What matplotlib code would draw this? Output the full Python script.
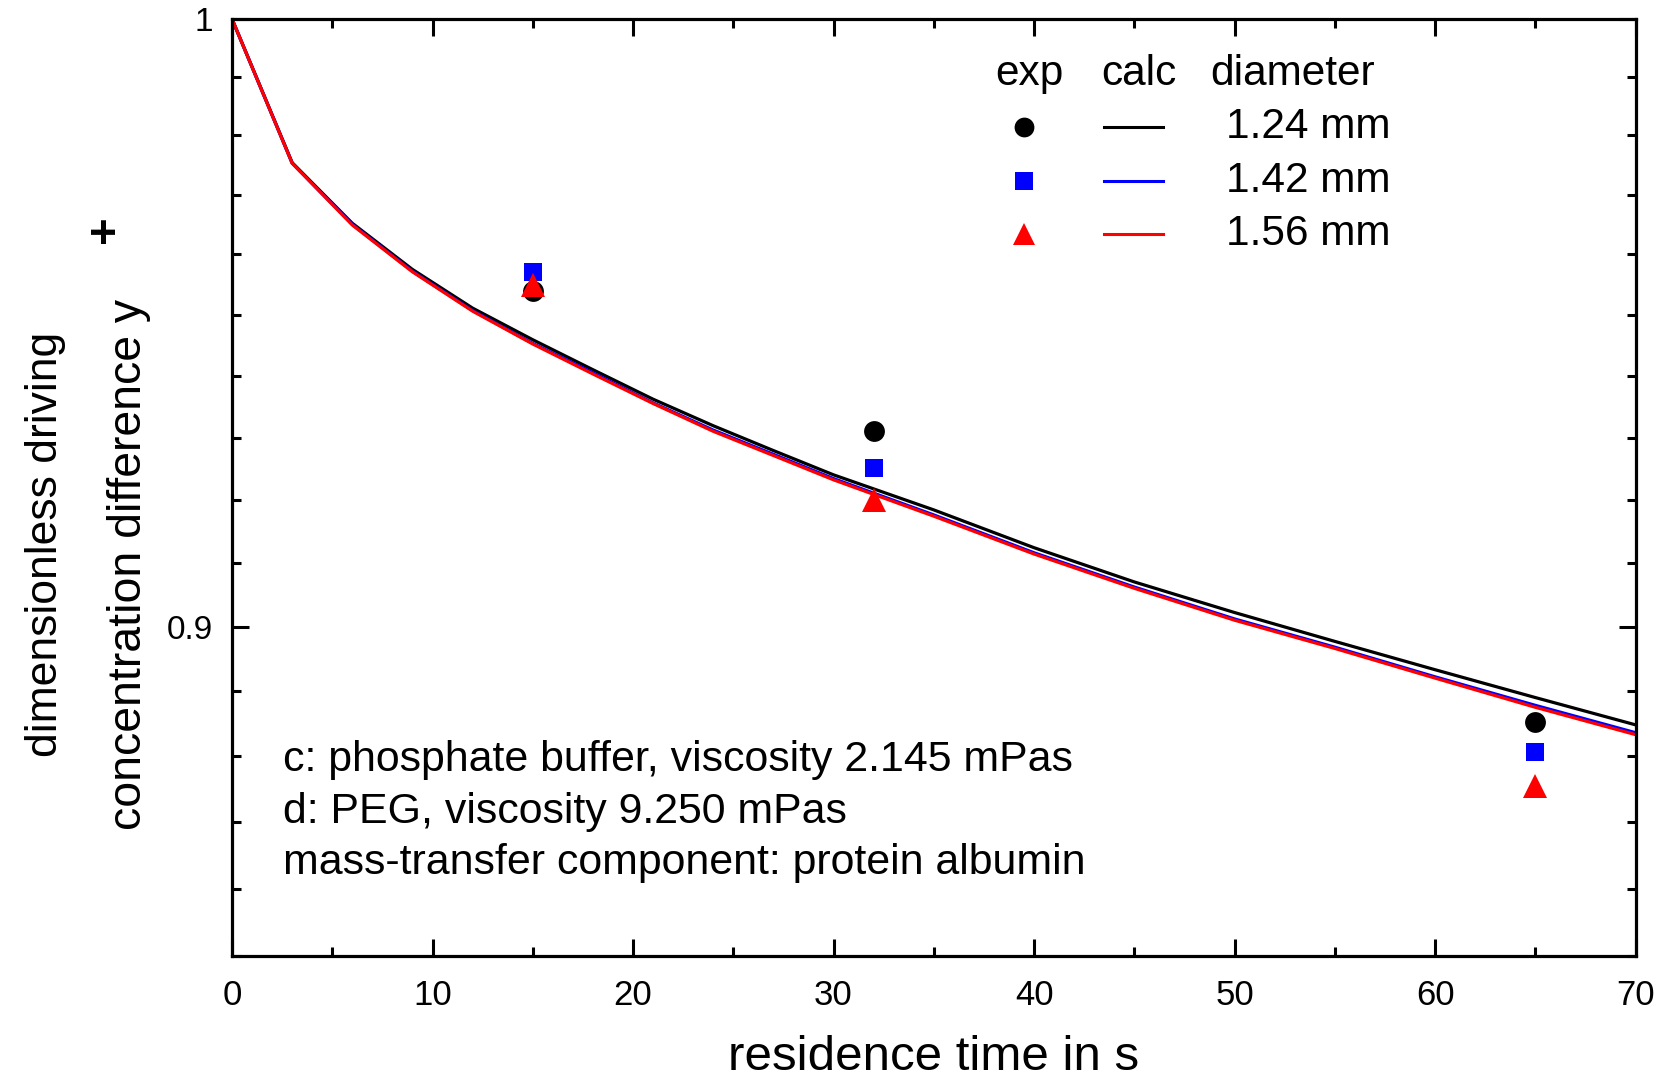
import numpy as np
import matplotlib
matplotlib.use("Agg")
import matplotlib.pyplot as plt
from matplotlib.ticker import FixedLocator, NullFormatter, FixedFormatter

plt.rcParams['font.family'] = ['Liberation Sans', 'DejaVu Sans']

# calculated curves (residence time in s, dimensionless driving concentration difference)
t_calc = [0, 3, 6, 9, 12, 15, 18, 21, 24, 27, 30, 35, 40, 45, 50, 55, 60, 65, 70]
y_calc_124 = [1.0, 0.9754, 0.9652, 0.9575, 0.9511, 0.9459, 0.9410, 0.9362, 0.9319, 0.9279,
              0.9240, 0.9184, 0.9124, 0.9070, 0.9022, 0.8977, 0.8933, 0.8890, 0.8848]
y_calc_142 = [1.0, 0.9753, 0.9650, 0.9572, 0.9507, 0.9453, 0.9405, 0.9356, 0.9312, 0.9273,
              0.9234, 0.9176, 0.9116, 0.9062, 0.9012, 0.8968, 0.8922, 0.8878, 0.8836]
y_calc_156 = [1.0, 0.9753, 0.9649, 0.9571, 0.9506, 0.9452, 0.9403, 0.9355, 0.9310, 0.9271,
              0.9232, 0.9174, 0.9114, 0.9060, 0.9010, 0.8966, 0.8920, 0.8875, 0.8833]

# experimental points
t_exp = [15, 32, 65]
y_exp_124 = [0.9540, 0.9310, 0.8853]
y_exp_142 = [0.9570, 0.9251, 0.8806]
y_exp_156 = [0.9549, 0.9200, 0.8755]

diameters = ["1.24 mm", "1.42 mm", "1.56 mm"]
colors = ["black", "#0000ff", "#ff0000"]
markers = ["o", "s", "^"]
msizes = [15, 13.5, 17]

notes = ("c: phosphate buffer, viscosity 2.145 mPas\n"
         "d: PEG, viscosity 9.250 mPas\n"
         "mass-transfer component: protein albumin")

fig = plt.figure(figsize=(16.69, 10.83), dpi=100)
ax = fig.add_axes([0.139, 0.117, 0.841, 0.8655])

calc = [y_calc_124, y_calc_142, y_calc_156]
exps = [y_exp_124, y_exp_142, y_exp_156]

for y, c in zip(calc, colors):
    ax.plot(t_calc, y, color=c, lw=2.3, zorder=2)
for y, c, m, s in zip(exps, colors, markers, msizes):
    ax.plot(t_exp, y, ls="none", marker=m, ms=s, color=c, mec=c, mew=0, zorder=3, clip_on=False)

ax.set_yscale("log")
ax.set_xlim(0, 70)
ax.set_ylim(0.85, 1.0)

ax.xaxis.set_major_locator(FixedLocator(np.arange(0, 71, 10)))
ax.xaxis.set_minor_locator(FixedLocator(np.arange(5, 70, 10)))
ax.yaxis.set_major_locator(FixedLocator([0.9, 1.0]))
ax.yaxis.set_major_formatter(FixedFormatter(["0.9", "1"]))
ax.yaxis.set_minor_locator(FixedLocator([v / 100 for v in range(85, 100) if v != 90]))
ax.yaxis.set_minor_formatter(NullFormatter())

ax.tick_params(which="both", direction="in", top=True, right=True, width=2.2, color="black")
ax.tick_params(which="major", length=12.5)
ax.tick_params(which="minor", length=6.5)
ax.tick_params(axis="x", which="major", labelsize=25, pad=16)
ax.tick_params(axis="y", which="major", labelsize=24, pad=14)
for sp in ax.spines.values():
    sp.set_linewidth(2.3)

ax.set_xlabel("residence time in s", fontsize=35.5)
ax.xaxis.set_label_coords(0.5, -0.084)

ax.set_ylabel("concentration difference y", fontsize=33.4)
ax.yaxis.set_label_coords(-0.0735, 0.418)
ax.yaxis.label.set_verticalalignment("center")
fig.text(0.027, 0.4977, "dimensionless driving", rotation=90, fontsize=32, ha="center", va="center")
fig.text(0.0635, 0.7886, "+", rotation=90, fontsize=34, fontweight="bold", ha="center", va="center")

# notes
ax.text(0.0363, 0.154, notes, transform=ax.transAxes, fontsize=30.9, ha="left", va="center",
        linespacing=1.37)

# legend table: exp / calc / diameter
ax.text(0.568, 0.941, "exp", transform=ax.transAxes, fontsize=30.5, ha="center", va="center")
ax.text(0.646, 0.941, "calc", transform=ax.transAxes, fontsize=30.5, ha="center", va="center")
ax.text(0.697, 0.941, "diameter", transform=ax.transAxes, fontsize=30.5, ha="left", va="center")
rows = [0.885, 0.827, 0.771]
for yr, c, m, s, lab in zip(rows, colors, markers, msizes, diameters):
    ax.plot([0.564], [yr], transform=ax.transAxes, marker=m, ms=s * 0.95, color=c, mew=0, ls="none")
    ax.plot([0.621, 0.663], [yr, yr], transform=ax.transAxes, color=c, lw=2.2)
    ax.text(0.708, yr, lab, transform=ax.transAxes, fontsize=30.5, ha="left", va="center")

fig.savefig("out.png", dpi=100)
